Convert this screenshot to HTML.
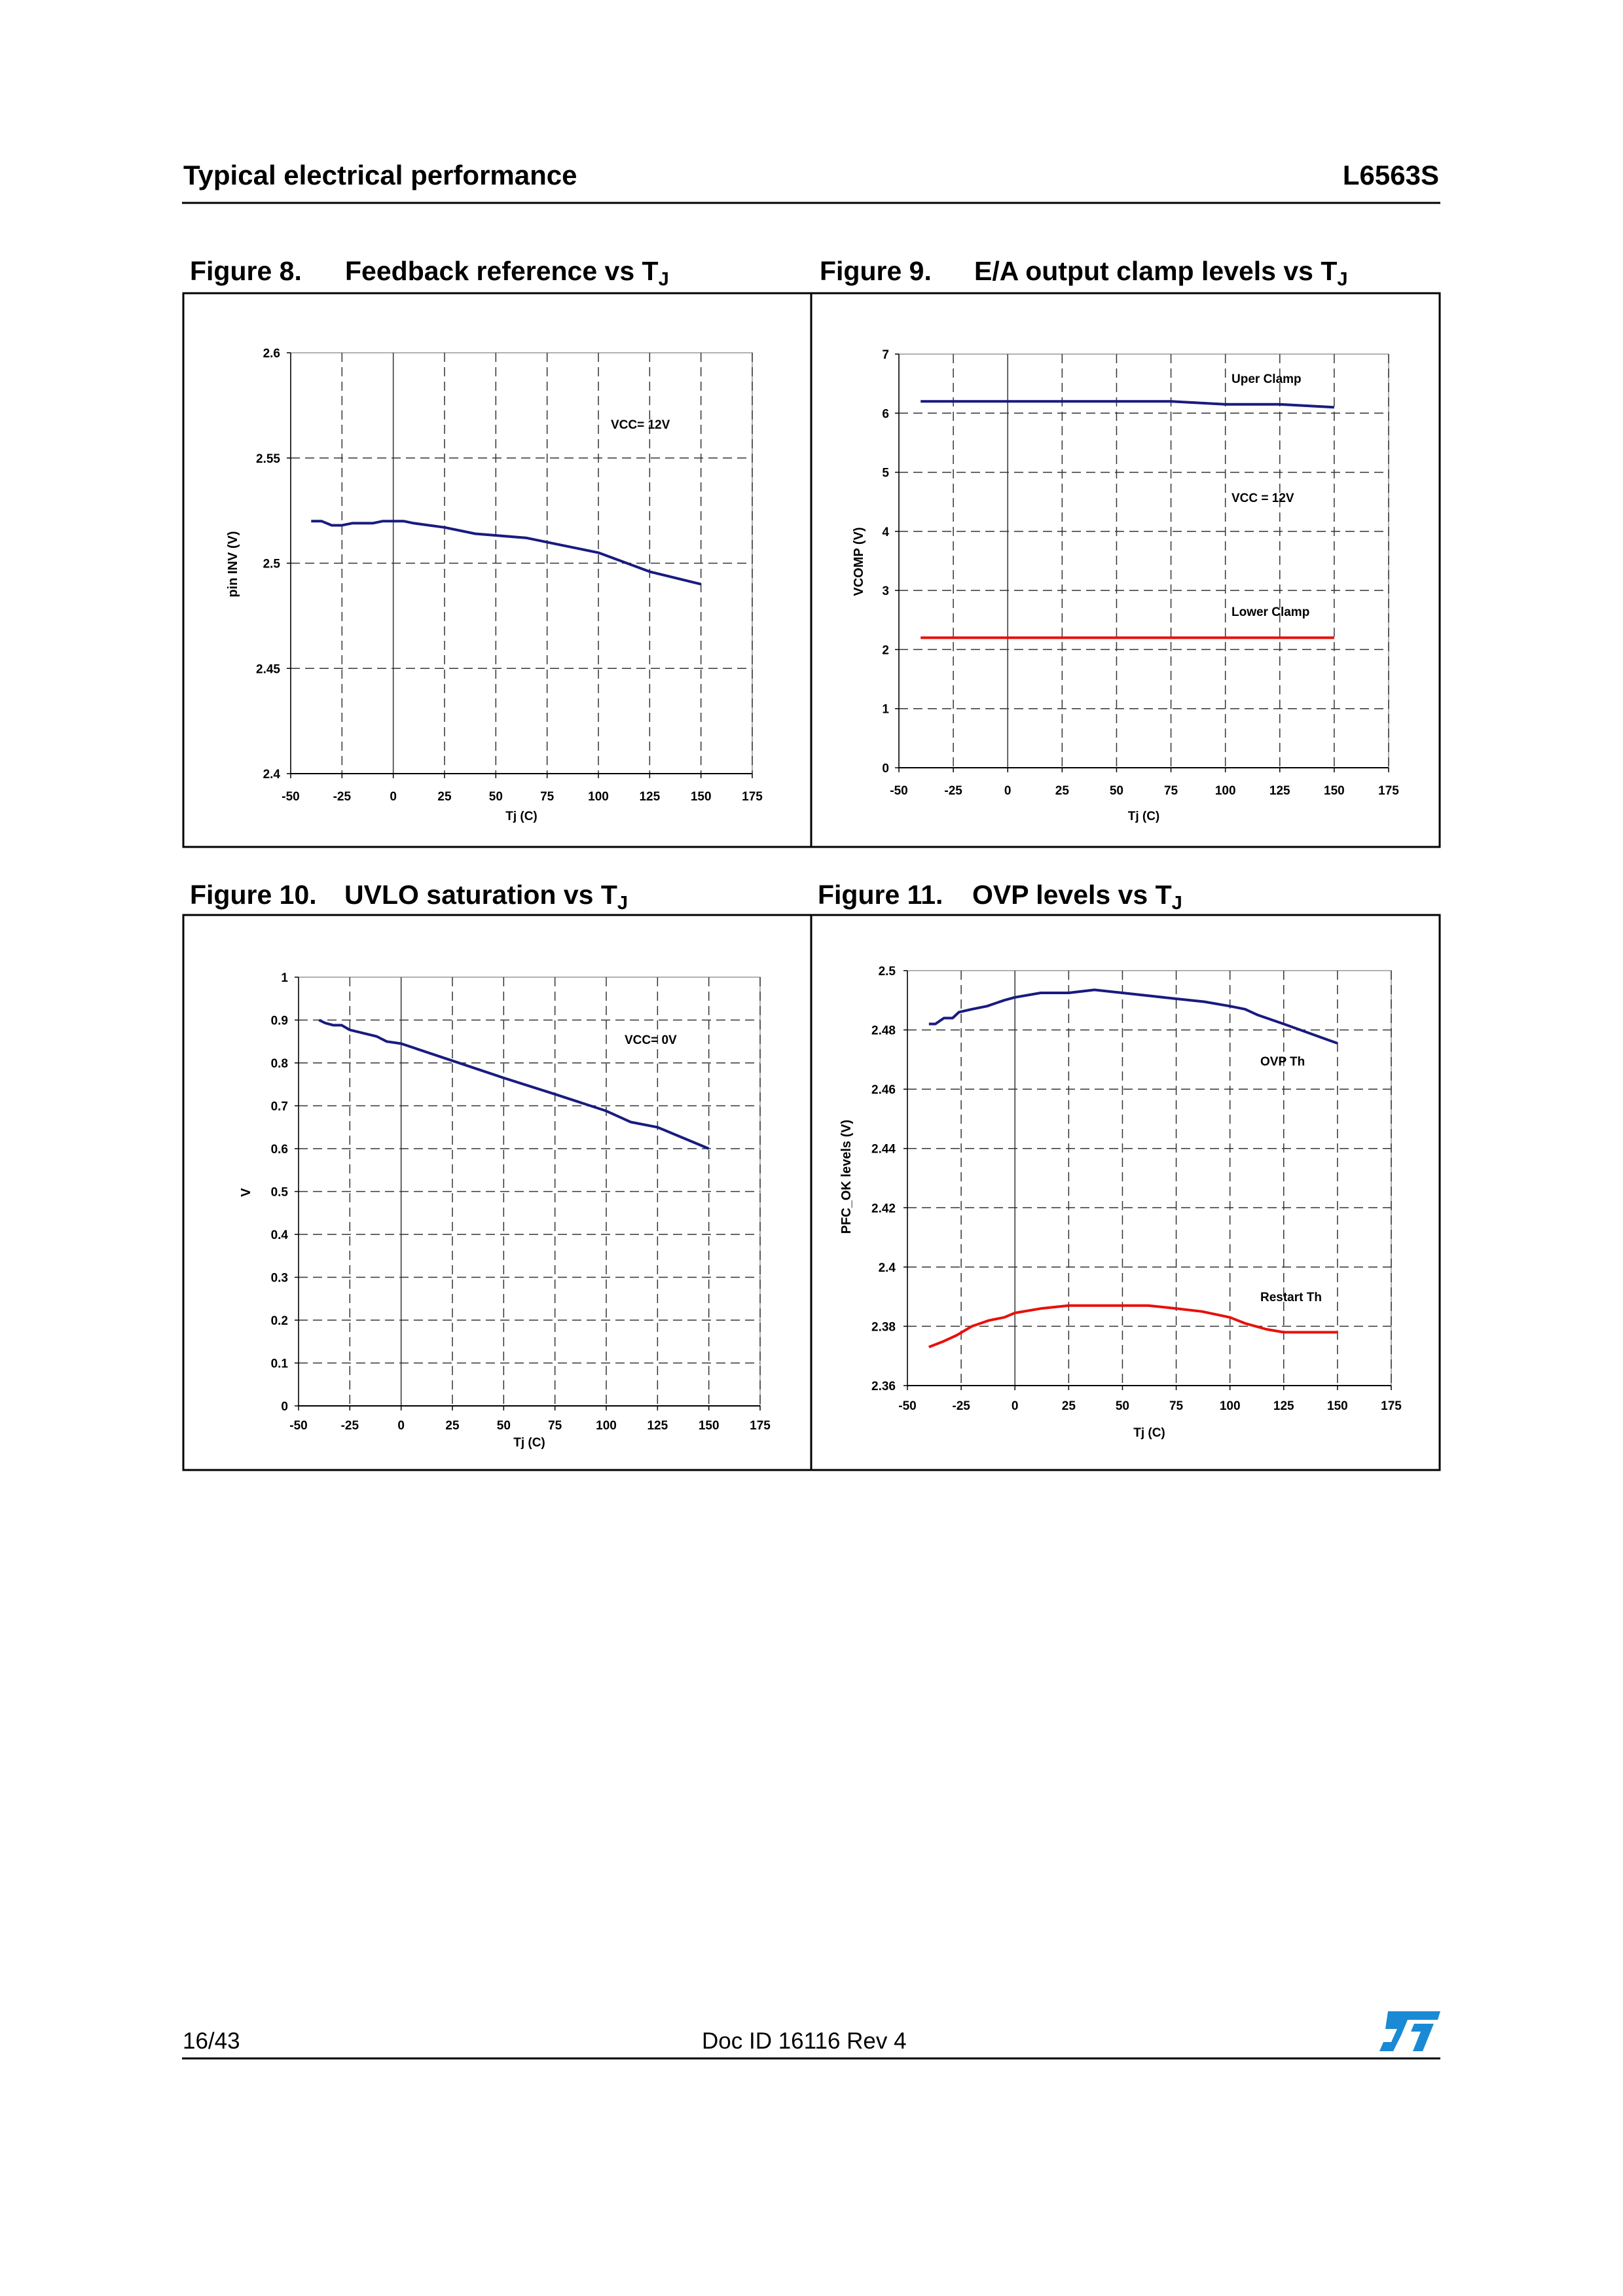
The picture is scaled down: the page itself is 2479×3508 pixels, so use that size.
<!DOCTYPE html>
<html><head><meta charset="utf-8"><style>
html,body{margin:0;padding:0;background:#fff}
svg{display:block}
text{font-family:"Liberation Sans",Arial,sans-serif}
</style></head><body>
<svg id="s" width="2479" height="3508" viewBox="0 0 2479 3508" xmlns="http://www.w3.org/2000/svg">
<rect width="2479" height="3508" fill="#fff"/>
<text x="280" y="282" font-size="42" font-weight="bold">Typical electrical performance</text>
<text x="2198" y="282" font-size="42" font-weight="bold" text-anchor="end">L6563S</text>
<line x1="278" y1="310" x2="2200" y2="310" stroke="#000" stroke-width="3"/>
<text x="290" y="428" font-size="41" font-weight="bold">Figure 8.</text>
<text x="527" y="428" font-size="41" font-weight="bold">Feedback reference vs T<tspan font-size="29" dy="8">J</tspan></text>
<text x="1252" y="428" font-size="41" font-weight="bold">Figure 9.</text>
<text x="1488" y="428" font-size="41" font-weight="bold">E/A output clamp levels vs T<tspan font-size="29" dy="8">J</tspan></text>
<text x="290" y="1381" font-size="41" font-weight="bold">Figure 10.</text>
<text x="526" y="1381" font-size="41" font-weight="bold">UVLO saturation vs T<tspan font-size="29" dy="8">J</tspan></text>
<text x="1249" y="1381" font-size="41" font-weight="bold">Figure 11.</text>
<text x="1485" y="1381" font-size="41" font-weight="bold">OVP levels vs T<tspan font-size="29" dy="8">J</tspan></text>
<rect x="280" y="448" width="1919" height="846" fill="none" stroke="#000" stroke-width="3"/>
<line x1="1239" y1="448" x2="1239" y2="1294" stroke="#000" stroke-width="3"/>
<rect x="280" y="1398" width="1919" height="848" fill="none" stroke="#000" stroke-width="3"/>
<line x1="1239" y1="1398" x2="1239" y2="2246" stroke="#000" stroke-width="3"/>
<text x="279" y="3130" font-size="35">16/43</text>
<text x="1072" y="3130" font-size="35">Doc ID 16116 Rev 4</text>
<line x1="278" y1="3145" x2="2200" y2="3145" stroke="#000" stroke-width="3"/>
<g fill="#1a8ad4">
<polygon points="2120,3073 2200,3073 2196,3086 2150,3086 2140,3110 2128,3134 2107,3134 2113,3120 2125,3120 2134,3100 2116,3100"/>
<polygon points="2160,3092 2190,3092 2173,3134 2158,3134 2170,3104 2155,3104"/>
</g>
<g id="charts"></g>
</svg>
<script>
var NS="http://www.w3.org/2000/svg",G=document.getElementById("charts");
function el(t,a,txt){var e=document.createElementNS(NS,t);for(var k in a)e.setAttribute(k,a[k]);if(txt!=null)e.textContent=txt;G.appendChild(e);return e;}
function chart(c){
 var L=c.L,R=c.R,T=c.T,B=c.B;
 function X(v){return L+(v+50)/225*(R-L);}
 function Y(v){return B-(v-c.y0)/(c.y1-c.y0)*(B-T);}
 el("rect",{x:L,y:T,width:R-L,height:B-T,fill:"none",stroke:"#999","stroke-width":1.5});
 for(var x=-25;x<=175;x+=25){ if(x==0)continue; el("line",{x1:X(x),y1:T,x2:X(x),y2:B,stroke:"#333","stroke-width":1.5,"stroke-dasharray":"14,8"});}
 el("line",{x1:X(0),y1:T,x2:X(0),y2:B,stroke:"#333","stroke-width":1.5});
 for(var i=0;i<c.yt.length;i++){var v=c.yt[i],y=Y(v);
  if(i>0&&i<c.yt.length-1)el("line",{x1:L,y1:y,x2:R,y2:y,stroke:"#333","stroke-width":1.5,"stroke-dasharray":"14,8"});
  el("line",{x1:L-6,y1:y,x2:L,y2:y,stroke:"#000","stroke-width":1.5});
  el("text",{x:c.ytx,y:y+7,"font-size":19,"font-weight":"bold","text-anchor":"end"},c.ylab[i]);}
 el("line",{x1:L,y1:B,x2:R,y2:B,stroke:"#000","stroke-width":2});
 el("line",{x1:L,y1:T,x2:L,y2:B,stroke:"#000","stroke-width":1.5});
 for(var x=-50;x<=175;x+=25){el("line",{x1:X(x),y1:B,x2:X(x),y2:B+7,stroke:"#000","stroke-width":1.5});
  el("text",{x:X(x),y:c.xly+7,"font-size":19,"font-weight":"bold","text-anchor":"middle"},String(x));}
 el("text",{x:(L+R)/2,y:c.xty+7,"font-size":19,"font-weight":"bold","text-anchor":"middle"},"Tj  (C)");
 el("text",{x:c.ylx,y:c.yly,"font-size":20,"font-weight":"bold","text-anchor":"middle",transform:"rotate(-90 "+c.ylx+" "+c.yly+")"},c.ytitle);
 c.series.forEach(function(s){var p=s.d.map(function(q){return X(q[0]).toFixed(1)+","+Y(q[1]).toFixed(1)}).join(" ");
  el("polyline",{points:p,fill:"none",stroke:s.c,"stroke-width":4,"stroke-linejoin":"round"});});
 c.notes.forEach(function(n){el("text",{x:n[0],y:n[1]+7,"font-size":19,"font-weight":"bold"},n[2]);});
}
chart({L:444,R:1149,T:539,B:1182,y0:2.4,y1:2.6,yt:[2.4,2.45,2.5,2.55,2.6],ylab:["2.4","2.45","2.5","2.55","2.6"],ytx:428,xly:1216,xty:1246,ylx:362,yly:862,ytitle:"pin INV (V)",
 series:[{c:"#1a1a80",d:[[-40,2.52],[-35,2.52],[-30,2.518],[-25,2.518],[-20,2.519],[-10,2.519],[-5,2.52],[5,2.52],[10,2.519],[25,2.517],[40,2.514],[65,2.512],[85,2.508],[100,2.505],[125,2.496],[150,2.49]]}],
 notes:[[933,648,"VCC= 12V"]]});
chart({L:1373,R:2121,T:541,B:1173,y0:0,y1:7,yt:[0,1,2,3,4,5,6,7],ylab:["0","1","2","3","4","5","6","7"],ytx:1358,xly:1207,xty:1246,ylx:1318,yly:858,ytitle:"VCOMP (V)",
 series:[{c:"#1a1a80",d:[[-40,6.2],[75,6.2],[100,6.15],[125,6.15],[150,6.1]]},{c:"#e8100a",d:[[-40,2.2],[150,2.2]]}],
 notes:[[1881,578,"Uper Clamp"],[1881,760,"VCC = 12V"],[1881,934,"Lower Clamp"]]});
chart({L:456,R:1161,T:1493,B:2148,y0:0,y1:1,yt:[0,0.1,0.2,0.3,0.4,0.5,0.6,0.7,0.8,0.9,1],ylab:["0","0.1","0.2","0.3","0.4","0.5","0.6","0.7","0.8","0.9","1"],ytx:440,xly:2177,xty:2203,ylx:382,yly:1822,ytitle:"V",
 series:[{c:"#1a1a80",d:[[-40,0.9],[-37,0.893],[-33,0.888],[-29,0.888],[-25,0.877],[-12,0.862],[-7,0.85],[0,0.845],[25,0.805],[50,0.765],[75,0.727],[100,0.688],[112,0.662],[125,0.65],[150,0.6]]}],
 notes:[[954,1588,"VCC= 0V"]]});
chart({L:1386,R:2125,T:1483,B:2117,y0:2.36,y1:2.5,yt:[2.36,2.38,2.4,2.42,2.44,2.46,2.48,2.5],ylab:["2.36","2.38","2.4","2.42","2.44","2.46","2.48","2.5"],ytx:1368,xly:2147,xty:2188,ylx:1299,yly:1798,ytitle:"PFC_OK levels (V)",
 series:[{c:"#1a1a80",d:[[-40,2.482],[-37,2.482],[-33,2.484],[-29,2.484],[-26,2.486],[-20,2.487],[-13,2.488],[-5,2.49],[0,2.491],[12,2.4925],[25,2.4925],[37,2.4935],[50,2.4925],[75,2.4905],[88,2.4895],[100,2.488],[107,2.487],[113,2.485],[125,2.482],[150,2.4755]]},
 {c:"#e8100a",d:[[-40,2.373],[-33,2.375],[-27,2.377],[-20,2.38],[-12,2.382],[-5,2.383],[0,2.3845],[12,2.386],[25,2.387],[62,2.387],[75,2.386],[87,2.385],[100,2.383],[107,2.381],[117,2.379],[125,2.378],[150,2.378]]}],
 notes:[[1925,1621,"OVP Th"],[1925,1981,"Restart Th"]]});
</script>
</body></html>
